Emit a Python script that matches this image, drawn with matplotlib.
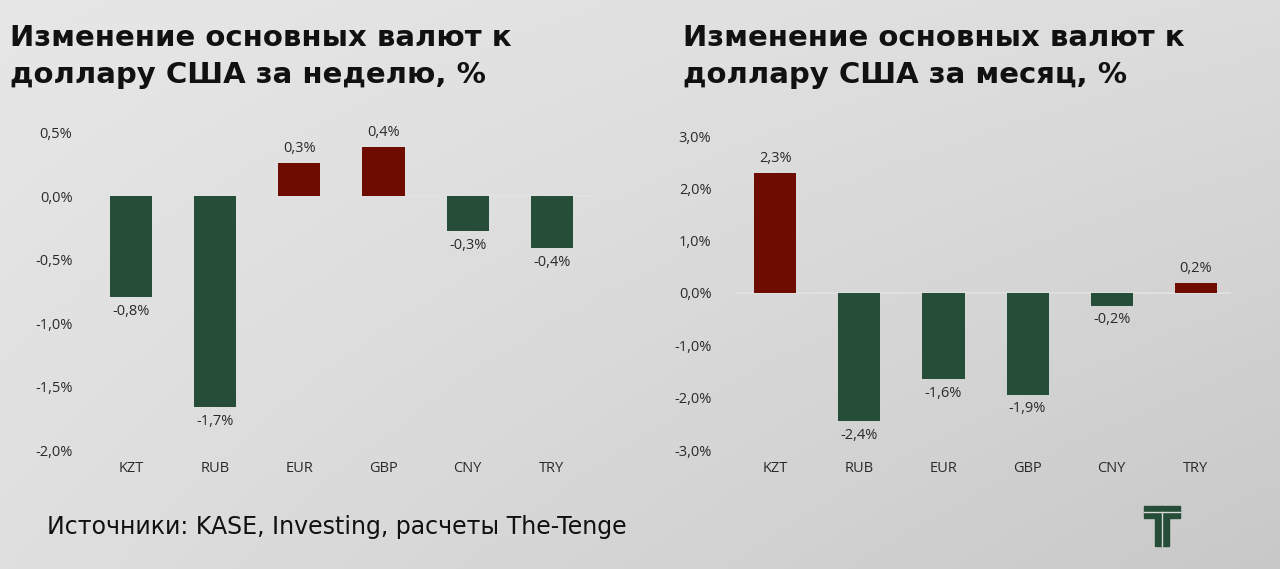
import matplotlib
matplotlib.use("Agg")
import matplotlib.pyplot as plt
import numpy as np
from matplotlib.patches import Rectangle

CURRENCIES = ["KZT", "RUB", "EUR", "GBP", "CNY", "TRY"]
WEEK_CHANGE = [-0.79, -1.66, 0.26, 0.39, -0.27, -0.41]
MONTH_CHANGE = [2.29, -2.44, -1.64, -1.94, -0.24, 0.19]

WEEK_TICKS = [0.5, 0.0, -0.5, -1.0, -1.5, -2.0]
MONTH_TICKS = [3.0, 2.0, 1.0, 0.0, -1.0, -2.0, -3.0]

WEEK_TITLE = "Изменение основных валют к\nдоллару США за неделю, %"
MONTH_TITLE = "Изменение основных валют к\nдоллару США за месяц, %"
SOURCE = "Источники: KASE, Investing, расчеты The-Tenge"

GREEN = "#264d38"
RED = "#6f0c02"
TEXT = "#2a2a2a"
FONT = ["Open Sans", "DejaVu Sans"]
WIDE = ["DejaVu Sans"]

W, H = 1280, 569


def fmt(v: float) -> str:
    return f"{v:.1f}%".replace(".", ",")


def draw_panel(ax, values, ticks, ylim, xlim):
    x = np.arange(len(CURRENCIES))
    colors = [RED if v > 0 else GREEN for v in values]
    ax.bar(x, values, width=0.5, color=colors, zorder=3)
    ax.axhline(0, color="#e2e2e2", linewidth=1.2, zorder=2)
    ax.set_xlim(*xlim)
    ax.set_ylim(*ylim)
    ax.set_yticks(ticks)
    ax.set_yticklabels([fmt(t) for t in ticks], family=FONT, fontsize=10.5, color=TEXT)
    ax.set_xticks(x)
    ax.set_xticklabels(CURRENCIES, family=FONT, fontsize=10.5, color=TEXT)
    ax.tick_params(axis="both", length=0)
    ax.tick_params(axis="y", pad=17)
    ax.tick_params(axis="x", pad=8)
    ax.patch.set_alpha(0)
    for spine in ax.spines.values():
        spine.set_visible(False)
    span = ylim[1] - ylim[0]
    for xi, v in zip(x, values):
        off = 0.022 * span
        ax.text(xi, v + off if v > 0 else v - off, fmt(v),
                ha="center", va="bottom" if v > 0 else "top",
                family=FONT, fontsize=10.5, color=TEXT, zorder=4)


def main() -> None:
    fig = plt.figure(figsize=(W / 100, H / 100), dpi=100)

    # background gradient, lighter at the top-left, darker towards bottom-right
    bg = fig.add_axes([0, 0, 1, 1], zorder=-10)
    gx, gy = np.meshgrid(np.linspace(0, 1, 256), np.linspace(0, 1, 128))
    shade = 0.905 - 0.04 * gx - 0.03 * gy - 0.05 * gx * gy
    bg.imshow(np.dstack([shade] * 3), extent=(0, 1, 0, 1), aspect="auto", origin="upper")
    bg.axis("off")

    ax1 = fig.add_axes([96 / W, 1 - 450 / H, 496 / W, 317 / H])
    draw_panel(ax1, WEEK_CHANGE, WEEK_TICKS, (-2.0, 0.5), (-0.42, 5.48))

    ax2 = fig.add_axes([735 / W, 1 - 450 / H, 496 / W, 314 / H])
    draw_panel(ax2, MONTH_CHANGE, MONTH_TICKS, (-3.0, 3.0), (-0.48, 5.42))

    fig.text(10 / W, 1 - 24 / H, WEEK_TITLE, ha="left", va="top", family=WIDE,
             fontweight="bold", fontsize=21, color="#111111", linespacing=1.4)
    fig.text(683 / W, 1 - 24 / H, MONTH_TITLE, ha="left", va="top", family=WIDE,
             fontweight="bold", fontsize=21, color="#111111", linespacing=1.4)
    fig.text(47 / W, 1 - 527 / H, SOURCE, ha="left", va="center", family=WIDE,
             fontsize=17, color="#111111")

    # logo
    lg = fig.add_axes([1140 / W, 1 - 550 / H, 45 / W, 48 / H])
    lg.set_xlim(0, 45)
    lg.set_ylim(48, 0)
    lg.axis("off")
    lg.add_patch(Rectangle((4, 4), 36, 12, color=GREEN))
    lg.add_patch(Rectangle((15, 16), 14, 28, color=GREEN))
    lg.plot([4, 40], [10, 10], color="#d8d8d8", linewidth=1)
    lg.plot([22, 22], [10, 44], color="#d8d8d8", linewidth=1)

    fig.savefig("out.png", dpi=100)
    plt.close(fig)


if __name__ == "__main__":
    main()
